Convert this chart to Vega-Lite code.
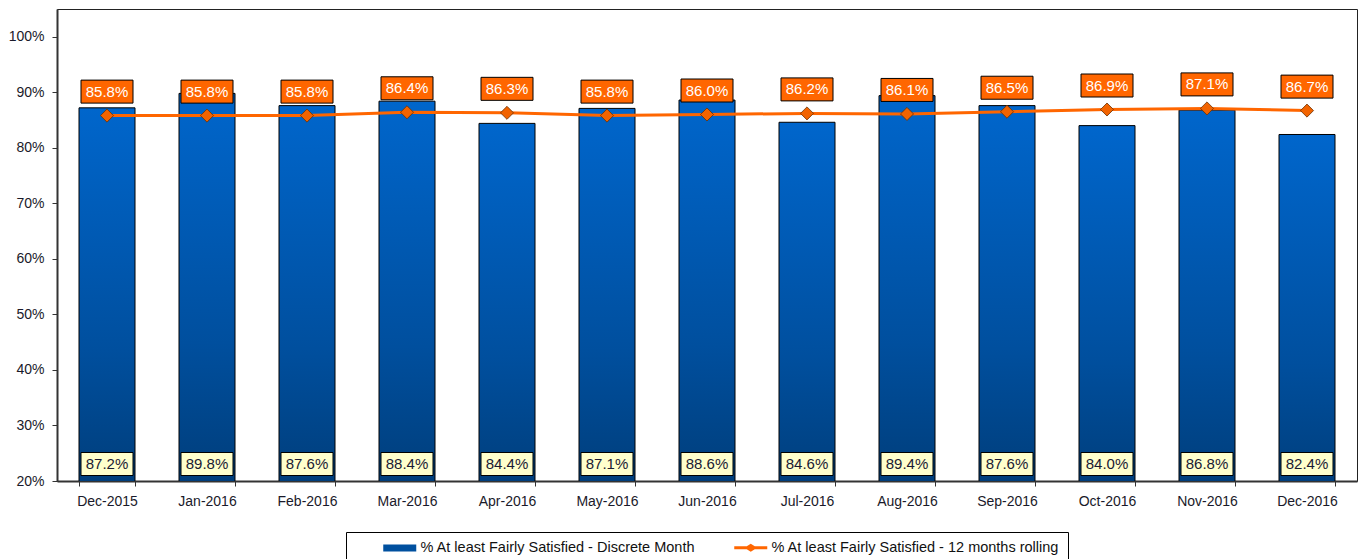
{
  "$schema": "https://vega.github.io/schema/vega-lite/v6.json",
  "width": 1300,
  "height": 472,
  "padding": {"left": 8, "top": 9, "right": 8, "bottom": 0},
  "background": "white",
  "config": {
    "font": "Liberation Sans",
    "view": {"stroke": "#222", "strokeWidth": 1},
    "axis": {"labelFont": "Liberation Sans", "labelFontSize": 14, "labelColor": "#1a1a2a", "domainColor": "#333", "domainWidth": 2, "tickColor": "#333", "tickSize": 5, "tickWidth": 1, "grid": false, "title": null}
  },
  "data": {
    "values": [
      {"month": "Dec-2015", "discrete": 0.872, "rolling": 0.858},
      {"month": "Jan-2016", "discrete": 0.898, "rolling": 0.858},
      {"month": "Feb-2016", "discrete": 0.876, "rolling": 0.858},
      {"month": "Mar-2016", "discrete": 0.884, "rolling": 0.864},
      {"month": "Apr-2016", "discrete": 0.844, "rolling": 0.863},
      {"month": "May-2016", "discrete": 0.871, "rolling": 0.858},
      {"month": "Jun-2016", "discrete": 0.886, "rolling": 0.860},
      {"month": "Jul-2016", "discrete": 0.846, "rolling": 0.862},
      {"month": "Aug-2016", "discrete": 0.894, "rolling": 0.861},
      {"month": "Sep-2016", "discrete": 0.876, "rolling": 0.865},
      {"month": "Oct-2016", "discrete": 0.840, "rolling": 0.869},
      {"month": "Nov-2016", "discrete": 0.868, "rolling": 0.871},
      {"month": "Dec-2016", "discrete": 0.824, "rolling": 0.867}
    ]
  },
  "encoding": {
    "x": {
      "field": "month", "type": "ordinal", "sort": null,
      "scale": {"paddingInner": 0.44, "paddingOuter": 0.22},
      "axis": {"labelAngle": 0, "tickBand": "extent", "labelPadding": 8}
    }
  },
  "layer": [
    {
      "mark": {
        "type": "bar", "stroke": "#000", "strokeWidth": 1, "clip": true,
        "fill": {"gradient": "linear", "x1": 0, "y1": 0, "x2": 0, "y2": 1,
          "stops": [{"offset": 0, "color": "#0066cc"}, {"offset": 0.5, "color": "#004f9e"}, {"offset": 1, "color": "#00305f"}]}
      },
      "encoding": {
        "y": {"field": "discrete", "type": "quantitative",
          "scale": {"domain": [0.2, 1.05], "zero": false, "nice": false},
          "axis": {"values": [0.2, 0.3, 0.4, 0.5, 0.6, 0.7, 0.8, 0.9, 1.0], "format": ".0%", "labelPadding": 8}}
      }
    },
    {
      "mark": {"type": "line", "strokeWidth": 3, "color": "#ff6600"},
      "encoding": {"y": {"field": "rolling", "type": "quantitative"}}
    },
    {
      "mark": {"type": "point", "shape": "diamond", "filled": true, "fill": "#f26300", "stroke": "#6b2e00", "strokeWidth": 0.8, "size": 170, "opacity": 1},
      "encoding": {"y": {"field": "rolling", "type": "quantitative"}}
    },
    {
      "mark": {"type": "point", "filled": true, "size": 100},
      "encoding": {
        "y": {"field": "rolling", "type": "quantitative"},
        "opacity": {"value": 0},
        "color": {
          "datum": "% At least Fairly Satisfied - Discrete Month",
          "scale": {"domain": ["% At least Fairly Satisfied - Discrete Month", "% At least Fairly Satisfied - 12 months rolling"], "range": ["#00509f", "#ff6600"]},
          "legend": {
            "title": " ", "titleOrient": "left", "titlePadding": 27, "titleFontSize": 1,
            "orient": "none", "legendX": 289, "legendY": 523, "direction": "horizontal",
            "strokeColor": "#000", "padding": 8,
            "labelFont": "Liberation Sans", "labelFontSize": 14.5, "labelColor": "#111", "labelLimit": 500,
            "symbolSize": 100, "labelOffset": 25, "columnPadding": 35, "symbolOpacity": 1
          }
        },
        "shape": {
          "datum": "% At least Fairly Satisfied - Discrete Month",
          "scale": {"domain": ["% At least Fairly Satisfied - Discrete Month", "% At least Fairly Satisfied - 12 months rolling"], "range": ["M-1,-0.7H5.6V0.7H-1Z", "M-1,-0.3H1.5L2.3,-0.8L3.1,-0.3H5.6V0.3H3.1L2.3,0.8L1.5,0.3H-1Z"]}
        }
      }
    },
    {
      "mark": {"type": "point", "shape": "M-2.6,-1.15H2.6V1.15H-2.6Z", "filled": true, "fill": "#ff6600", "stroke": "#000", "strokeWidth": 1, "size": 400, "opacity": 1, "yOffset": -24},
      "encoding": {"y": {"field": "rolling", "type": "quantitative"}}
    },
    {
      "mark": {"type": "text", "color": "#ffffff", "fontSize": 15, "font": "Liberation Sans Narrow, Liberation Sans", "baseline": "middle", "align": "center", "yOffset": -24},
      "encoding": {
        "y": {"field": "rolling", "type": "quantitative"},
        "text": {"field": "rolling", "type": "quantitative", "format": ".1%"}
      }
    },
    {
      "mark": {"type": "point", "shape": "M-2.6,-1.15H2.6V1.15H-2.6Z", "filled": true, "fill": "#ffffcc", "stroke": "#000", "strokeWidth": 1, "size": 400, "opacity": 1, "yOffset": -17},
      "encoding": {"y": {"datum": 0.2, "type": "quantitative"}}
    },
    {
      "mark": {"type": "text", "color": "#1a1a33", "fontSize": 15, "font": "Liberation Sans Narrow, Liberation Sans", "baseline": "middle", "align": "center", "yOffset": -17},
      "encoding": {
        "y": {"datum": 0.2, "type": "quantitative"},
        "text": {"field": "discrete", "type": "quantitative", "format": ".1%"}
      }
    }
  ]
}
